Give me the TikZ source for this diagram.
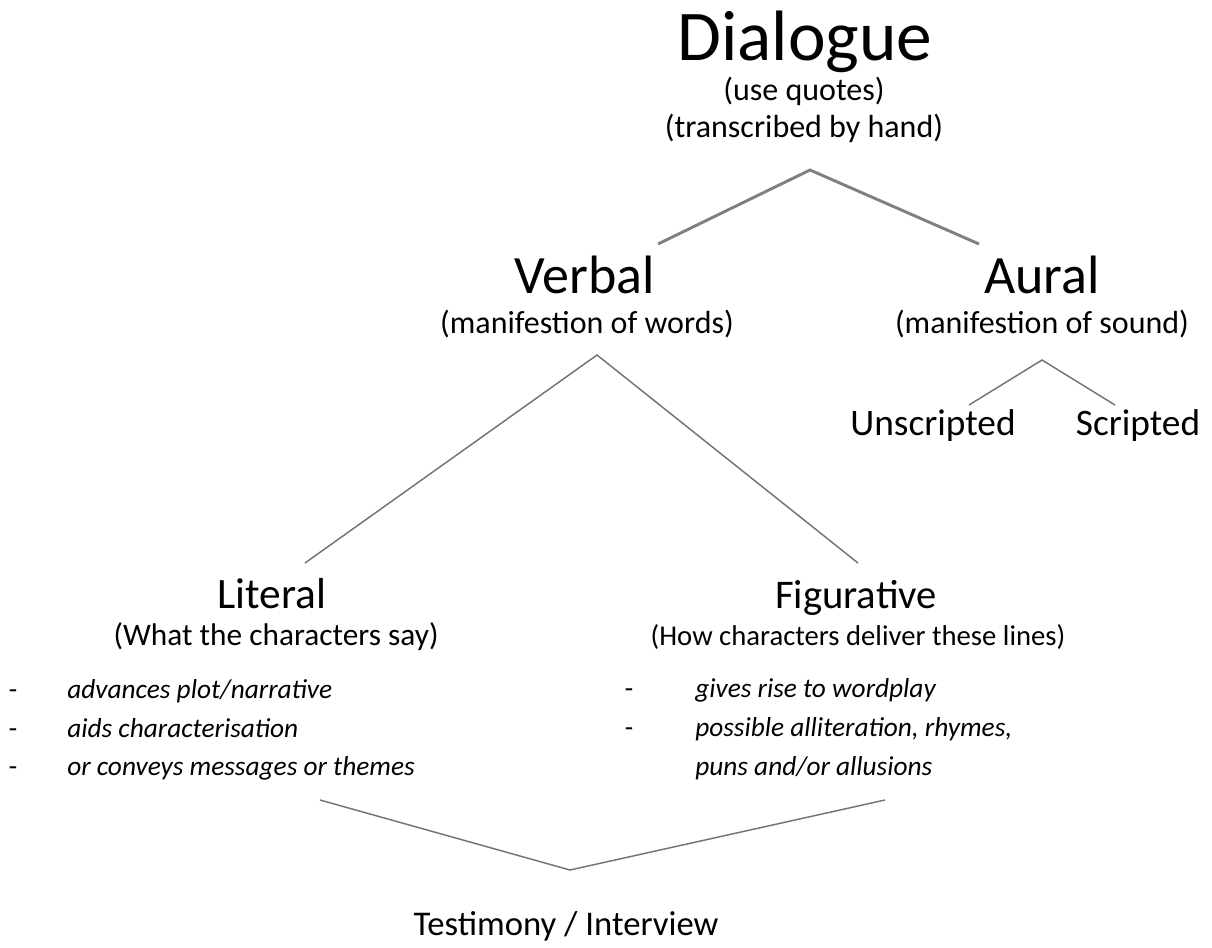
\documentclass[tikz,border=0pt]{standalone}
\usepackage{fontspec}
\setmainfont{Carlito}
\usetikzlibrary{positioning, calc}

\begin{document}
\begin{tikzpicture}[x=0.75pt, y=-0.75pt,
    txt/.style={inner sep=0pt, anchor=base},
    branch/.style={draw=black!55, line width=1.1pt},
    trunk/.style={draw=black!50, line width=2.2pt}]

    \useasboundingbox (0,0) rectangle (1212,947);

    % Top heading
    \node[txt, font=\fontsize{53.5}{60}\selectfont] (dlg) at (805,60) {Dialogue};
    \node[txt, font=\fontsize{24}{28}\selectfont] (dlgq) at (804,100) {(use quotes)};
    \node[txt, font=\fontsize{24}{28}\selectfont] (dlgh) at (804,137) {(transcribed by hand)};

    % Verbal and Aural
    \node[txt, font=\fontsize{40.5}{46}\selectfont] (verb) at (585,293) {Verbal};
    \node[txt, font=\fontsize{24}{28}\selectfont] (verbw) at (587,333) {(manifestion of words)};
    \node[txt, font=\fontsize{40.5}{46}\selectfont] (aur) at (1042,293) {Aural};
    \node[txt, font=\fontsize{24}{28}\selectfont] (aurs) at (1042,333) {(manifestion of sound)};

    % Aural branches
    \node[txt, font=\fontsize{28}{32}\selectfont] (unscr) at (933,435) {Unscripted};
    \node[txt, font=\fontsize{28}{32}\selectfont] (scr) at (1138,435) {Scripted};

    % Literal and Figurative
    \node[txt, font=\fontsize{32.5}{36}\selectfont] (lit) at (272,608) {Literal};
    \node[txt, font=\fontsize{23.5}{28}\selectfont] (litw) at (276,645) {(What the characters say)};
    \node[txt, font=\fontsize{30.5}{36}\selectfont] (fig) at (856,608) {Figurative};
    \node[txt, font=\fontsize{21.5}{26}\selectfont] (figw) at (858,645) {(How characters deliver these lines)};

    % Bullet lists
    \foreach \y/\t [count=\i] in {698/{advances plot/narrative}, 737/{aids characterisation}, 775/{or conveys messages or themes}} {
        \node[txt, font=\fontsize{20.5}{24}\selectfont] (litd\i) at (13,\y) {-};
        \node[txt, anchor=base west, font=\fontsize{20.5}{24}\selectfont\itshape] (litb\i) at (67,\y) {\t};
    }
    \node[txt, font=\fontsize{20.5}{24}\selectfont] (figd1) at (629,697) {-};
    \node[txt, anchor=base west, font=\fontsize{20.5}{24}\selectfont\itshape] (figb1) at (695,697) {gives rise to wordplay};
    \node[txt, font=\fontsize{20.5}{24}\selectfont] (figd2) at (629,736) {-};
    \node[txt, anchor=base west, font=\fontsize{20.5}{24}\selectfont\itshape] (figb2) at (695,736) {possible alliteration, rhymes,};
    \node[txt, anchor=base west, font=\fontsize{20.5}{24}\selectfont\itshape] (figb3) at (695,775) {puns and/or allusions};

    % Bottom
    \node[txt, font=\fontsize{26}{30}\selectfont] (test) at (566,935) {Testimony / Interview};

    % Connector end points
    \coordinate (dlgtip) at (810,170);
    \coordinate (verbend) at (658,244);
    \coordinate (aurend) at (979,244);
    \coordinate (verbtip) at (597,355);
    \coordinate (litend) at (305,563);
    \coordinate (figend) at (858,563);
    \coordinate (aurtip) at (1042,360);
    \coordinate (unscrend) at (969,405);
    \coordinate (scrend) at (1115,405);
    \coordinate (litlow) at (320,800);
    \coordinate (figlow) at (885,800);
    \coordinate (testtip) at (570,870);

    % Connectors
    \draw[trunk] (verbend) -- (dlgtip) -- (aurend);
    \draw[branch] (litend) -- (verbtip) -- (figend);
    \draw[branch] (unscrend) -- (aurtip) -- (scrend);
    \draw[branch] (litlow) -- (testtip) -- (figlow);

\end{tikzpicture}
\end{document}
